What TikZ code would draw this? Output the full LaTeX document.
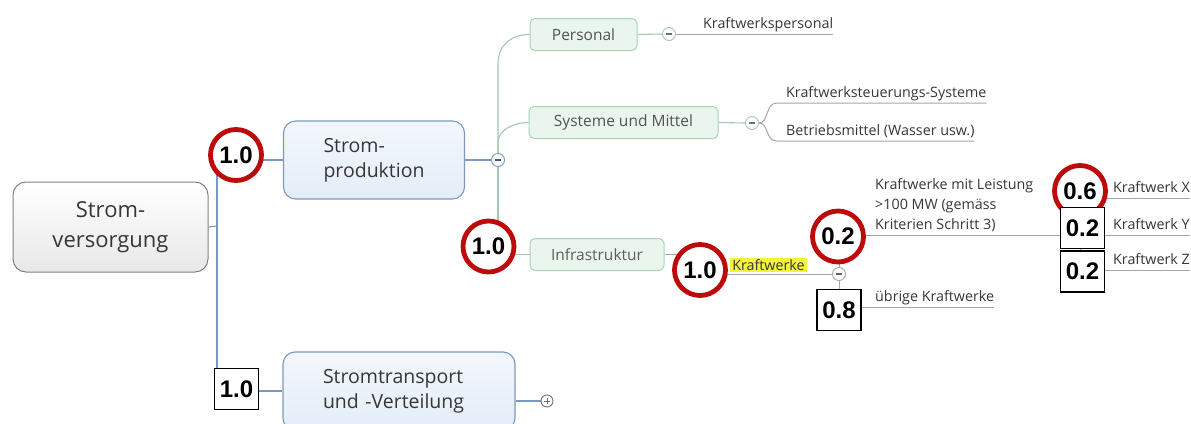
\documentclass[tikz,border=0pt]{standalone}
\usepackage{fontspec}
\setmainfont{Open Sans}
\newfontfamily\numfont{Liberation Sans}
\usetikzlibrary{calc}
\pgfdeclarelayer{background}
\pgfsetlayers{background,main}
\definecolor{txt}{HTML}{363636}
\definecolor{redc}{HTML}{BD0A0A}
\definecolor{blueln}{HTML}{7C98C0}
\definecolor{bluefill}{HTML}{E4EDF8}
\definecolor{greenln}{HTML}{A3C8B2}
\definecolor{greenfill}{HTML}{EAF5EE}
\definecolor{greenbd}{HTML}{A6D4B7}
\definecolor{grayln}{HTML}{A6A6A6}
\definecolor{plusc}{HTML}{737373}
\definecolor{hlyellow}{HTML}{F4F43C}
\begin{document}
\begin{tikzpicture}[x=1pt,y=-1pt,
  rootbox/.style={draw=black!50, line width=1pt, rounded corners=13pt, top color=white, bottom color=black!9, minimum width=195pt, minimum height=90pt, align=center, text=txt, font=\fontsize{22}{30}\selectfont, inner sep=0pt},
  mainbox/.style={draw=blueln, line width=1.1pt, rounded corners=12pt, top color=bluefill!45, bottom color=bluefill, minimum height=78pt, align=left, inner xsep=40pt, inner ysep=0pt, text=txt, font=\fontsize{19.5}{25}\selectfont},
  subbox/.style={draw=greenbd, line width=1pt, rounded corners=5pt, fill=greenfill, minimum height=32pt, inner sep=0pt, text=txt!85, font=\fontsize{15.5}{18}\selectfont},
  leaf/.style={anchor=south west, inner xsep=0pt, inner ysep=2pt, text depth=3.5pt, text=txt, font=\fontsize{14.3}{20}\selectfont, align=left},
  minusbtn/.style={circle, draw=#1, fill=white, line width=0.9pt, minimum size=13pt, inner sep=0pt,
    path picture={\draw[#1!60!black, line width=1.1pt] ([xshift=3.5pt]path picture bounding box.west) -- ([xshift=-3.5pt]path picture bounding box.east);}},
  plusbtn/.style={circle, draw=#1, fill=white, line width=0.9pt, minimum size=12pt, inner sep=0pt,
    path picture={\draw[#1, line width=1pt] ([xshift=3pt]path picture bounding box.west) -- ([xshift=-3pt]path picture bounding box.east) ([yshift=3pt]path picture bounding box.south) -- ([yshift=-3pt]path picture bounding box.north);}},
  redring/.style={circle, draw=redc, line width=4.8pt, fill=white, minimum size=51pt, inner sep=0pt, text=black, font=\numfont\bfseries\fontsize{24}{24}\selectfont},
  numbox/.style={draw=black, line width=1.4pt, fill=white, minimum width=44pt, minimum height=41pt, inner sep=0pt, text=black, font=\numfont\bfseries\fontsize{24}{24}\selectfont},
  bl/.style={draw=blueln, line width=1.1pt},
  gl/.style={draw=greenln, line width=1.1pt},
  gy/.style={draw=grayln, line width=1pt}
]
\useasboundingbox (0,0) rectangle (1191,423);

% main nodes
\node[rootbox] (root) at (110.5,227) {Strom-\\versorgung};
\node[mainbox, text width=101pt] (prod) at (374,160) {Strom-\\produktion};
\node[mainbox, text width=152pt] (trans) at (399,391) {Stromtransport\\und -Verteilung};

\node[minusbtn=blueln] (pmin) at (498,160) {};
\node[plusbtn=plusc] (tplus) at (547,401) {};

\node[subbox, minimum width=107pt] (pers) at (583.5,34.5) {Personal};
\node[subbox, minimum width=189pt] (sys) at (623.5,122.5) {Systeme und Mittel};
\node[subbox, minimum width=134pt, text=txt!80] (infra) at (597,254.5) {Infrastruktur};

\node[minusbtn=greenln] (pmn) at (669,34) {};
\node[minusbtn=greenln] (smn) at (752,123) {};
\node[minusbtn=grayln] (kmin) at (839,274) {};

\node[leaf] (kp) at (703,34) {Kraftwerkspersonal};
\node[leaf] (ks) at (786,103) {Kraftwerksteuerungs-Systeme};
\node[leaf] (bm) at (786,141) {Betriebsmittel (Wasser usw.)};
\node[fill=hlyellow, inner xsep=2pt, inner ysep=0pt, minimum height=14pt, text=txt, font=\fontsize{14.3}{16}\selectfont] (kw) at (768.5,265) {Kraftwerke};
\node[leaf] (k100) at (875,235) {Kraftwerke mit Leistung\\>100 MW (gemäss\\Kriterien Schritt 3)};
\node[leaf] (ueb) at (875,307) {übrige Kraftwerke};
\node[leaf] (kX) at (1113,198) {Kraftwerk X};
\node[leaf] (kY) at (1113,235) {Kraftwerk Y};
\node[leaf] (kZ) at (1113,270) {Kraftwerk Z};

\coordinate (spine) at (217,226);
\coordinate (xj) at (1080,235);

% weights
\node[redring] (w1) at (236,155) {1.0};
\node[numbox] (w2) at (236.5,389) {1.0};
\node[redring] (w3) at (488.5,246.5) {1.0};
\node[redring] (w4) at (700,270) {1.0};
\node[redring] (w5) at (838,236.5) {0.2};
\node[numbox] (w6) at (839,310) {0.8};
\node[redring] (w7) at (1080,191) {0.6};
\node[numbox] (w8) at (1082.5,228) {0.2};
\node[numbox] (w9) at (1082.5,271.5) {0.2};

\begin{pgfonlayer}{background}
\draw[bl] (root.east) -- (spine);
\draw[bl] (spine) |- (prod.west);
\draw[bl] (spine) |- (trans.west);
\draw[bl] (prod.east) -- (pmin.west);
\draw[bl] ([yshift=-10pt]trans.east) -- (tplus.west);

\draw[gl] (pmin.north) -- ($(pmin.north |- pers.west)+(0,30)$) .. controls +(0,-20) and +(-18,0) .. (pers.west);
\draw[gl] (pmin.north) -- ($(pmin.north |- sys.west)+(0,20)$) .. controls +(0,-13) and +(-14,0) .. (sys.west);
\draw[gl] (pmin.south) |- (infra.west);
\draw[gl] (pers.east) -- (pmn.west);
\draw[gl] (sys.east) -- (smn.west);

\draw[gy] (pmn.east) -- (kp.south east);
\draw[gy] (smn.east) .. controls +(10,0) and +(-12,0) .. ([xshift=-9pt]ks.south west) -- (ks.south east);
\draw[gy] (smn.east) .. controls +(10,0) and +(-12,0) .. ([xshift=-9pt]bm.south west) -- (bm.south east);

\draw[gy] (infra.east) -- (infra.east -| w4.center) |- (kmin.west);
\draw[gy] (kmin.north) |- (xj);
\draw[gy] (kmin.south) |- (ueb.south east);
\draw[gy] (xj) |- (kX.south east);
\draw[gy] (xj) -- (kY.south east);
\draw[gy] (xj) |- (kZ.south east);
\end{pgfonlayer}
\end{tikzpicture}
\end{document}
